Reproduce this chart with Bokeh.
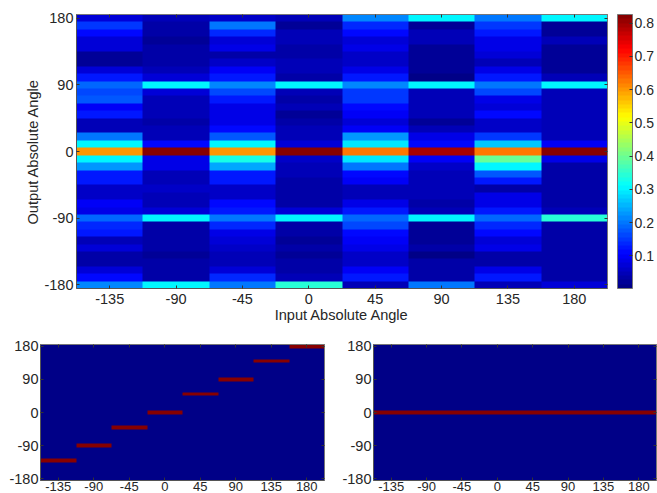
import numpy as np
from bokeh.embed import file_html
from bokeh.resources import INLINE
from bokeh.plotting import figure
from bokeh.layouts import column, row
from bokeh.models import LinearColorMapper, ColorBar, FixedTicker, LinearAxis, Range1d

input_angles = [-135, -90, -45, 0, 45, 90, 135, 180]
output_angles = list(range(180, -190, -10))
y_ticks = [-180, -90, 0, 90, 180]
bar_ticks = [0.1, 0.2, 0.3, 0.4, 0.5, 0.6, 0.7, 0.8]

col_m135 = [.07,.15,.11,.07,.07,.02,.02,.07,.12,.19,.16,.17,.10,.13,.05,.05,.20,.31,.60,.31,.23,.12,.12,.06,.06,.10,.09,.19,.14,.12,.05,.07,.03,.03,.07,.11,.22]
col_m90 = [.05,.03,.03,.02,.04,.04,.04,.05,.07,.31,.07,.05,.05,.05,.04,.05,.05,.11,.817,.09,.08,.05,.05,.06,.05,.05,.07,.31,.03,.03,.04,.03,.02,.03,.03,.03,.31]
col_m45 = [.06,.20,.14,.07,.09,.04,.06,.10,.12,.21,.16,.13,.09,.09,.09,.11,.17,.31,.60,.33,.24,.12,.12,.06,.06,.11,.13,.20,.14,.09,.07,.06,.05,.05,.07,.14,.20]
col_0 = [.05,.02,.05,.05,.04,.04,.05,.05,.03,.31,.05,.04,.05,.02,.04,.05,.05,.07,.817,.06,.05,.05,.04,.03,.04,.03,.07,.31,.03,.03,.02,.03,.02,.03,.04,.05,.34]
col_45 = [.21,.14,.11,.07,.08,.06,.06,.09,.13,.22,.15,.15,.11,.10,.07,.10,.23,.29,.63,.29,.20,.11,.10,.05,.05,.09,.13,.19,.16,.11,.10,.09,.06,.06,.10,.13,.05]
col_90 = [.30,.02,.05,.05,.02,.02,.02,.02,.01,.31,.05,.05,.05,.05,.02,.05,.08,.11,.80,.10,.06,.05,.05,.05,.05,.04,.05,.31,.02,.02,.02,.03,.01,.03,.03,.03,.20]
col_135 = [.20,.15,.12,.08,.08,.07,.05,.08,.12,.20,.16,.09,.07,.11,.06,.06,.15,.27,.62,.39,.30,.17,.12,.04,.08,.08,.13,.19,.14,.11,.07,.08,.03,.03,.09,.13,.05]
col_180 = [.31,.02,.02,.05,.02,.02,.02,.02,.05,.31,.05,.05,.05,.05,.05,.05,.05,.10,.826,.08,.03,.03,.03,.03,.03,.03,.05,.34,.03,.03,.03,.04,.04,.03,.03,.03,.07]
main_columns = [col_m135, col_m90, col_m45, col_0, col_45, col_90, col_135, col_180]

# output bin lit per input angle in the two lower panels
left_peak = [-130, -90, -40, 0, 50, 90, 140, 180]
right_peak = [0, 0, 0, 0, 0, 0, 0, 0]


def jet(n=64):
    out = []
    for i in range(n):
        t = (i + 0.5) / n
        r = min(max(min(4 * t - 1.5, -4 * t + 4.5), 0), 1)
        g = min(max(min(4 * t - 0.5, -4 * t + 3.5), 0), 1)
        b = min(max(min(4 * t + 0.5, -4 * t + 2.5), 0), 1)
        out.append("#%02x%02x%02x" % (int(r * 255), int(g * 255), int(b * 255)))
    return out


PALETTE = jet()
TEXT = "#262626"
FONT = "Liberation Sans"


def panel(columns, mapper, width, height, left, right, top, bottom,
          standoff_y, standoff_x, x_font):
    p = figure(width=width, height=height, output_backend="svg", toolbar_location=None,
               x_range=Range1d(-157.5, 202.5), y_range=Range1d(-185, 185),
               min_border_left=left, min_border_right=right,
               min_border_top=top, min_border_bottom=bottom,
               x_axis_location=None, y_axis_location=None)
    p.grid.visible = False
    p.outline_line_color = "#777777"
    grid = np.array(columns, dtype=float).T[::-1]
    p.image(image=[grid], x=-157.5, y=-185, dw=360, dh=370, color_mapper=mapper)
    for place, ticks in (("below", input_angles), ("left", y_ticks)):
        ax = LinearAxis(ticker=FixedTicker(ticks=ticks), major_tick_in=3, major_tick_out=0,
                        minor_tick_line_color=None, axis_line_color="#555555",
                        major_tick_line_color="#333333",
                        major_label_overrides={t: str(t) for t in ticks},
                        major_label_text_font=FONT, major_label_text_color=TEXT,
                        major_label_text_font_size=x_font if place == "below" else "14.5px",
                        major_label_standoff=standoff_x if place == "below" else standoff_y)
        p.add_layout(ax, place)
    for place, ticks in (("above", input_angles), ("right", y_ticks)):
        ax = LinearAxis(ticker=FixedTicker(ticks=[], minor_ticks=ticks),
                        minor_tick_in=3, minor_tick_out=0, major_tick_line_color=None,
                        minor_tick_line_color="#333333", axis_line_color="#777777")
        p.add_layout(ax, place)
    return p


main_map = LinearColorMapper(palette=PALETTE, low=0.0015, high=0.826)
top = panel(main_columns, main_map, 657, 325, 76, 50, 14, 37, 3, 5, "14.5px")
top.below[0].axis_label = "Input Absolute Angle"
top.left[0].axis_label = "Output Absolute Angle"
for ax in (top.below[0], top.left[0]):
    ax.axis_label_text_font = FONT
    ax.axis_label_text_font_size = "14.6px"
    ax.axis_label_text_font_style = "normal"
    ax.axis_label_text_color = TEXT
top.below[0].axis_label_standoff = 0
top.left[0].axis_label_standoff = 0

bar = ColorBar(color_mapper=main_map, width=15, padding=0, margin=0, location=(10, 0),
               ticker=FixedTicker(ticks=bar_ticks),
               major_tick_in=3, major_tick_line_color="#333333", bar_line_color="#777777",
               minor_tick_line_color=None, major_label_text_font=FONT,
               major_label_text_color=TEXT, major_label_text_font_size="14px",
               label_standoff=2, border_line_color=None, background_fill_color=None)
top.add_layout(bar, "right")


def binary(peaks):
    return [[1 if o == pk else 0 for o in output_angles] for pk in peaks]


low_map = LinearColorMapper(palette=PALETTE, low=0, high=1)
left = panel(binary(left_peak), low_map, 335, 168, 40, 11, 19, 13, 2, 1, "13px")
right = panel(binary(right_peak), low_map, 322, 168, 38, 1, 19, 13, 2, 1, "13px")

root = column(top, row(left, right, spacing=0), spacing=0, width=657, height=493,
              styles={"position": "absolute", "left": "0px", "top": "0px", "overflow": "hidden"})
open("out.html", "w").write(file_html(root, INLINE))
